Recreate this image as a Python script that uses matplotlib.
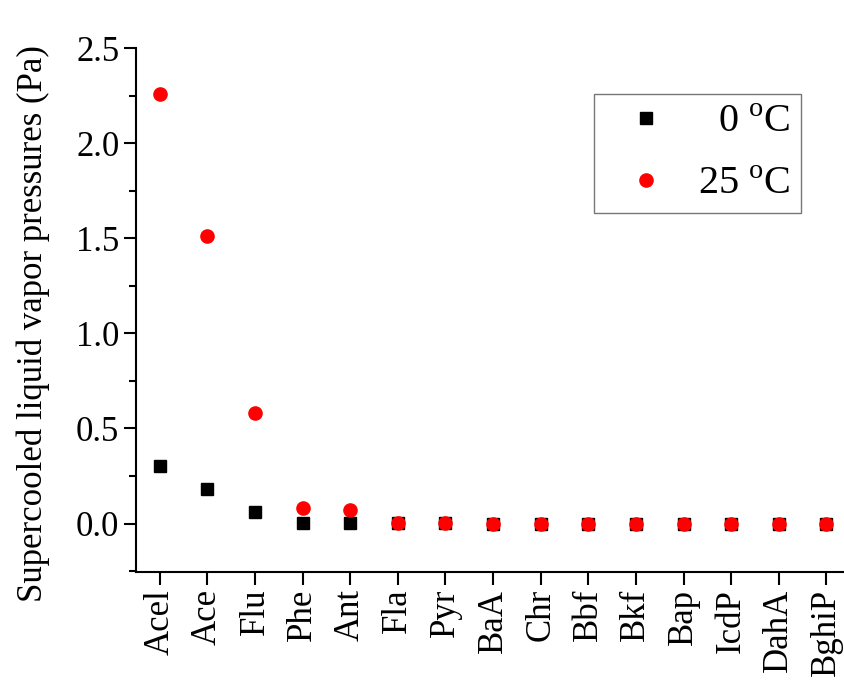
import numpy as np
import matplotlib
matplotlib.use('Agg')
from matplotlib import pyplot as plt
from matplotlib.ticker import MultipleLocator

plt.rcParams['font.family'] = ['Liberation Serif', 'DejaVu Serif']
plt.rcParams['mathtext.fontset'] = 'custom'
plt.rcParams['mathtext.rm'] = 'Liberation Serif'

compounds = ['Acel', 'Ace', 'Flu', 'Phe', 'Ant', 'Fla', 'Pyr', 'BaA', 'Chr',
             'Bbf', 'Bkf', 'Bap', 'IcdP', 'DahA', 'BghiP']
p_0C = [0.30, 0.18, 0.06, 0.005, 0.005, 0.001, 0.001, 0.0, 0.0,
        0.0, 0.0, 0.0, 0.0, 0.0, 0.0]
p_25C = [2.26, 1.51, 0.58, 0.08, 0.07, 0.003, 0.003, 0.0, 0.0,
         0.0, 0.0, 0.0, 0.0, 0.0, 0.0]

x = np.arange(1, len(compounds) + 1)

fig = plt.figure(figsize=(8.44, 6.80), dpi=100)
ax = fig.add_axes([0.1611, 0.1588, 0.8389, 0.7706])

ax.plot(x, p_0C, 's', color='black', markersize=8.5, linestyle='none',
        label='  0 $^\\mathrm{o}$C')
ax.plot(x, p_25C, 'o', color='#ff0000', markersize=9.5, linestyle='none',
        label='25 $^\\mathrm{o}$C')

ax.set_xlim(0.5, 15.37)
ax.set_ylim(-0.255, 2.5)
ax.set_xticks(x)
ax.set_xticklabels(compounds, rotation=90, fontsize=25)
ax.yaxis.set_minor_locator(MultipleLocator(0.25))
ax.set_yticks([0.0, 0.5, 1.0, 1.5, 2.0, 2.5])
ax.set_yticklabels(['0.0', '0.5', '1.0', '1.5', '2.0', '2.5'], fontsize=25)
ax.set_ylabel('Supercooled liquid vapor pressures (Pa)', fontsize=25)
ax.yaxis.set_label_coords(-0.121, 0.475)

for s in ['top', 'right']:
    ax.spines[s].set_visible(False)
for s in ['left', 'bottom']:
    ax.spines[s].set_linewidth(1.5)
ax.tick_params(which='major', direction='out', length=9, width=1.5, pad=3)
ax.tick_params(which='minor', direction='out', length=5, width=1.5)

leg = ax.legend(loc='upper right', bbox_to_anchor=(0.939, 0.912), fontsize=29,
                frameon=True, fancybox=False, edgecolor='#555555',
                handlelength=2.1, handletextpad=0.25, borderpad=0.25,
                labelspacing=0.6, borderaxespad=0, markerscale=1.0)
leg.get_frame().set_linewidth(1.0)

fig.savefig('out.png', dpi=100)
